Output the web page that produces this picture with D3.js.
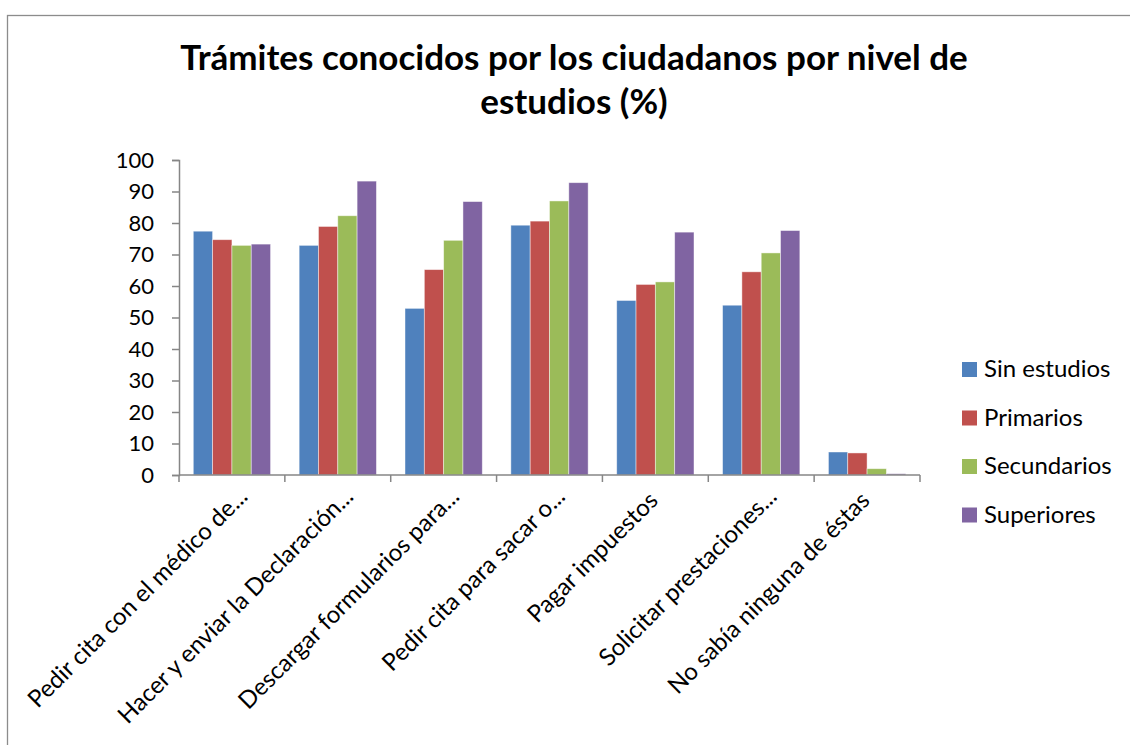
<!DOCTYPE html>
<html><head><meta charset="utf-8">
<script src="https://cdn.jsdelivr.net/npm/d3@7"></script>
<style>body{margin:0;background:#fff;} svg{display:block;}</style>
</head><body>
<svg id="c" width="1130" height="745"></svg>
<script>
const categories = [
  "Pedir cita con el médico de...",
  "Hacer y enviar la Declaración...",
  "Descargar formularios para...",
  "Pedir cita para sacar o...",
  "Pagar impuestos",
  "Solicitar prestaciones...",
  "No sabía ninguna de éstas"
];
const seriesNames = ["Sin estudios", "Primarios", "Secundarios", "Superiores"];
const sinEstudios = [77.4, 72.9, 52.9, 79.3, 55.4, 53.9, 7.3];
const primarios   = [74.7, 78.9, 65.2, 80.6, 60.5, 64.5, 7.0];
const secundarios = [72.9, 82.3, 74.5, 87.0, 61.3, 70.5, 2.0];
const superiores  = [73.3, 93.3, 86.8, 92.8, 77.1, 77.6, 0.4];
const yTicks = [0,10,20,30,40,50,60,70,80,90,100];
const colors = ["#4F81BD", "#C0504D", "#9BBB59", "#8064A2"];
const titleLines = ["Trámites conocidos por los ciudadanos por nivel de", "estudios (%)"];

(function () {
const seriesValues = [sinEstudios, primarios, secundarios, superiores];
const FONT = "Lato, 'Open Sans', sans-serif";
const svg = d3.select("#c");

// frame
svg.append("rect").attr("x", 7.5).attr("y", 15.5).attr("width", 1140).attr("height", 760)
  .attr("fill", "none").attr("stroke", "#8c8c8c").attr("stroke-width", 1.3);

// title
const tg = svg.append("g").attr("font-family", FONT).attr("font-weight", "bold").attr("fill", "#000");
const t1 = tg.append("text").attr("x", 574).attr("y", 70).attr("text-anchor", "middle")
  .attr("font-size", 30).text(titleLines[0]);
const w = t1.node().getComputedTextLength();
const fs = 30 * 788 / w;
t1.attr("font-size", fs);
tg.append("text").attr("x", 574).attr("y", 114).attr("text-anchor", "middle")
  .attr("font-size", fs).text(titleLines[1]);

const pLeft = 179, pRight = 920, pTop = 160, pBottom = 475;
const x0 = d3.scaleBand().domain(categories).range([pLeft, pRight]).paddingInner(0.27).paddingOuter(0.135);
const x1 = d3.scaleBand().domain(seriesNames).range([0, x0.bandwidth()]);
const y = d3.scaleLinear().domain([0, 100]).range([pBottom, pTop]);

// bars
const groups = svg.append("g").selectAll("g").data(categories).join("g")
  .attr("transform", d => `translate(${x0(d)},0)`);
groups.selectAll("rect").data((d, i) => seriesNames.map((s, j) => ({s, j, v: seriesValues[j][i]})))
  .join("rect")
  .attr("x", d => x1(d.s)).attr("width", x1.bandwidth())
  .attr("y", d => y(d.v)).attr("height", d => y(0) - y(d.v))
  .attr("fill", d => colors[d.j])
  .attr("stroke", "rgba(255,255,255,0.55)").attr("stroke-width", 0.8);

// y axis
const ya = svg.append("g").attr("transform", `translate(${pLeft},0)`)
  .call(d3.axisLeft(y).tickValues(yTicks).tickSize(7).tickPadding(18));
ya.select(".domain").attr("stroke", "#868686").attr("stroke-width", 1.5);
ya.selectAll(".tick line").attr("stroke", "#868686").attr("stroke-width", 1.5);
ya.selectAll("text").attr("font-family", FONT).attr("font-size", 22).attr("fill", "#000");

// x axis
const xBoundaries = d3.scaleLinear().domain([0, categories.length]).range([pLeft, pRight]);
const xa = svg.append("g").attr("transform", `translate(0,${pBottom})`);
xa.append("line").attr("x1", pLeft).attr("x2", pRight).attr("stroke", "#868686").attr("stroke-width", 1.5);
xa.selectAll("line.t").data(d3.range(categories.length + 1)).join("line").attr("class", "t")
  .attr("x1", d => xBoundaries(d)).attr("x2", d => xBoundaries(d)).attr("y1", 0).attr("y2", 7)
  .attr("stroke", "#868686").attr("stroke-width", 1.5);
xa.selectAll("text").data(categories).join("text")
  .attr("transform", d => {
    const ell = d.endsWith("...");
    const cx = x0(d) + x0.bandwidth() / 2 + (ell ? 17 : 4);
    const cy = ell ? 23 : 27;
    return `translate(${cx},${cy}) rotate(-45)`;
  })
  .attr("text-anchor", "end").attr("font-family", FONT).attr("font-size", 24).attr("fill", "#000")
  .text(d => d);

// legend
const lg = svg.append("g");
const li = lg.selectAll("g").data(seriesNames).join("g")
  .attr("transform", (d, i) => `translate(962,${362 + i * 48.5})`);
li.append("rect").attr("width", 15).attr("height", 15).attr("fill", (d, i) => colors[i]);
li.append("text").attr("x", 22).attr("y", 15).attr("font-family", FONT).attr("font-size", 24)
  .attr("fill", "#000").text(d => d);
})();
</script>
</body></html>
